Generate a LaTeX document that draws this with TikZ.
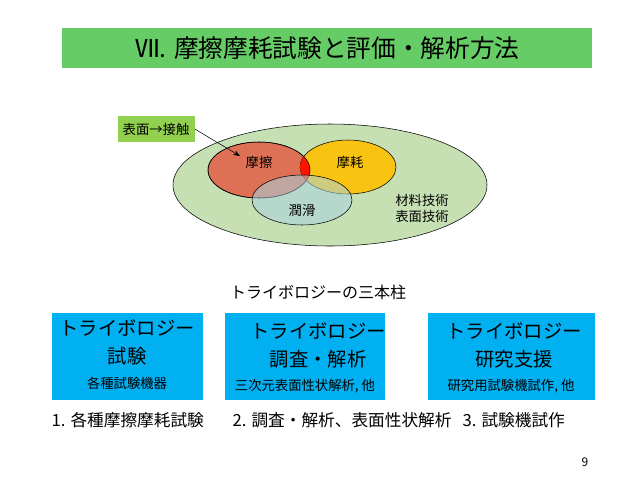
\documentclass[tikz,border=0pt]{standalone}
\usepackage{fontspec}
\setmainfont{Noto Sans CJK JP}
\usetikzlibrary{arrows.meta}
\definecolor{titlegreen}{HTML}{66CC66}
\definecolor{biggreen}{HTML}{C6E0B4}
\definecolor{tagg}{HTML}{92D050}
\definecolor{pillar}{HTML}{00B0F0}
\definecolor{fred}{HTML}{E06A50}
\definecolor{fyel}{HTML}{FFC000}
\definecolor{fblu}{HTML}{A9D3E0}
\tikzset{pbox/.style={fill=pillar,draw=none,align=center,anchor=north west,inner sep=0pt},
lbl/.style={font=\fontsize{10}{12}\selectfont},
phead/.style={align=center,font=\fontsize{14.5}{21}\selectfont},
blbl/.style={font=\fontsize{12.5}{14}\selectfont,anchor=west}}
\begin{document}
\begin{tikzpicture}[x=0.75pt,y=-0.75pt]
\useasboundingbox (0,0) rectangle (638,479);
\fill[white] (0,0) rectangle (638,479);
\node[fill=titlegreen,minimum width=530*0.75pt,minimum height=40*0.75pt,anchor=north west,font=\fontsize{18.5}{20}\selectfont] (title) at (62,28) {Ⅶ. 摩擦摩耗試験と評価・解析方法};
\draw[fill=biggreen] (330,185) ellipse [x radius=157,y radius=61];
\draw[fill=fred,fill opacity=0.95] (259,170) ellipse [x radius=51,y radius=28];
\draw[fill=fyel,fill opacity=0.9] (348,167) ellipse [x radius=48,y radius=27];
\begin{scope}
\clip (259,170) ellipse [x radius=51,y radius=28];
\fill[red!85!orange] (348,167) ellipse [x radius=48,y radius=27];
\end{scope}
\draw (259,170) ellipse [x radius=51,y radius=28];
\draw[fill=fblu,fill opacity=0.55] (302,200) ellipse [x radius=50,y radius=25];
\node[lbl] (ma) at (259,162) {摩擦};
\node[lbl] (mo) at (350,162) {摩耗};
\node[lbl] (ju) at (302,210) {潤滑};
\node[lbl,align=center] (zai) at (422,208) {材料技術\\表面技術};
\node[fill=tagg,lbl,minimum width=77*0.75pt,minimum height=26*0.75pt] (tag) at (156,129) {表面→接触};
\draw[-{Stealth[length=5pt]}] (tag.east) -- (240,156);
\node[font=\fontsize{12}{14}\selectfont] (hd) at (318,292) {トライボロジーの三本柱};
\node[pbox,minimum width=151*0.75pt,minimum height=87*0.75pt] (b1) at (52,313) {};
\node[pbox,minimum width=160*0.75pt,minimum height=87*0.75pt] (b2) at (225,313) {};
\node[pbox,minimum width=167*0.75pt,minimum height=87*0.75pt] (b3) at (428,313) {};
\node[phead] at (127,342) {トライボロジー\\試験};
\node[lbl] at (127,383) {各種試験機器};
\node[phead] at (318,345) {トライボロジー\\調査・解析};
\node[lbl] at (305,386) {三次元表面性状解析, 他};
\node[phead] at (514,345) {トライボロジー\\研究支援};
\node[lbl] at (511,386) {研究用試験機試作, 他};
\node[blbl] at (47,420) {1. 各種摩擦摩耗試験};
\node[blbl] at (228,420) {2. 調査・解析、表面性状解析};
\node[blbl] at (458,420) {3. 試験機試作};
\node[font=\fontsize{9}{11}\selectfont] at (585,462) {9};
\end{tikzpicture}
\end{document}
